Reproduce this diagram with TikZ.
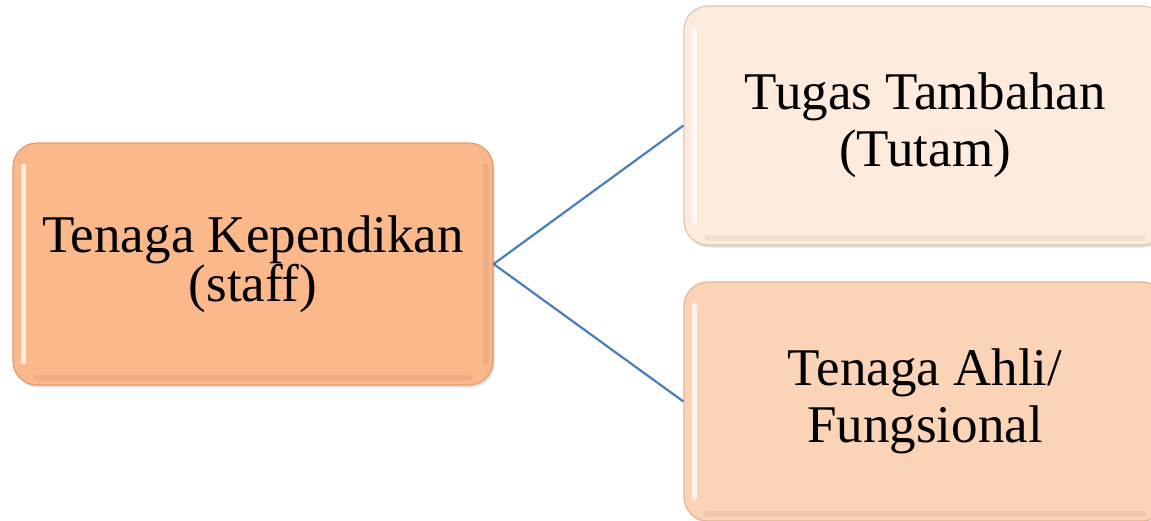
\documentclass[tikz,border=0pt]{standalone}
\usepackage{fontspec}
\setmainfont{Liberation Serif}
\usetikzlibrary{shadows}
\definecolor{boxA}{HTML}{FBB88A}
\definecolor{rimA}{HTML}{E39C6C}
\definecolor{boxB}{HTML}{FDEBDD}
\definecolor{rimB}{HTML}{E2C6B2}
\definecolor{boxC}{HTML}{FBD3B6}
\definecolor{rimC}{HTML}{E4B493}
\definecolor{link}{HTML}{4A7EBB}
\tikzset{
  card/.style={rounded corners=24pt, draw, line width=1.2pt, align=center,
    font=\fontsize{53}{57}\selectfont, inner sep=0pt,
    drop shadow={opacity=0.25, shadow xshift=1.5pt, shadow yshift=-2.5pt}},
  gloss/.style={white, opacity=0.75, line width=5pt, line cap=round},
  shade/.style={black, opacity=0.05, line width=6pt, line cap=round},
  connector/.style={draw=link, line width=2.2pt}
}
\begin{document}
\begin{tikzpicture}[x=1pt,y=-1pt]
\useasboundingbox (0,0) rectangle (1151,520);
\clip (0,0) rectangle (1151,520);
\node[card, fill=boxA, draw=rimA, minimum width=480pt, minimum height=242pt,
  font=\fontsize{53}{49}\selectfont] (main) at (253,264) {Tenaga Kependikan\\(staff)};
\node[card, fill=boxB, draw=rimB, minimum width=482pt, minimum height=239pt] (tutam) at (925,125.5) {Tugas Tambahan\\(Tutam)};
\node[card, fill=boxC, draw=rimC, minimum width=482pt, minimum height=239pt] (ahli) at (925,401.5) {Tenaga Ahli/\\Fungsional};
\foreach \n in {main,tutam,ahli}{
  \draw[gloss] ([xshift=11pt,yshift=-24pt]\n.north west) -- ([xshift=11pt,yshift=24pt]\n.south west);
  \draw[shade] ([xshift=-8pt,yshift=-24pt]\n.north east) -- ([xshift=-8pt,yshift=24pt]\n.south east);
  \draw[shade] ([xshift=24pt,yshift=8pt]\n.south west) -- ([xshift=-24pt,yshift=8pt]\n.south east);
}
\draw[connector] (main.east) -- (tutam.west);
\draw[connector] (main.east) -- (ahli.west);
\end{tikzpicture}
\end{document}
